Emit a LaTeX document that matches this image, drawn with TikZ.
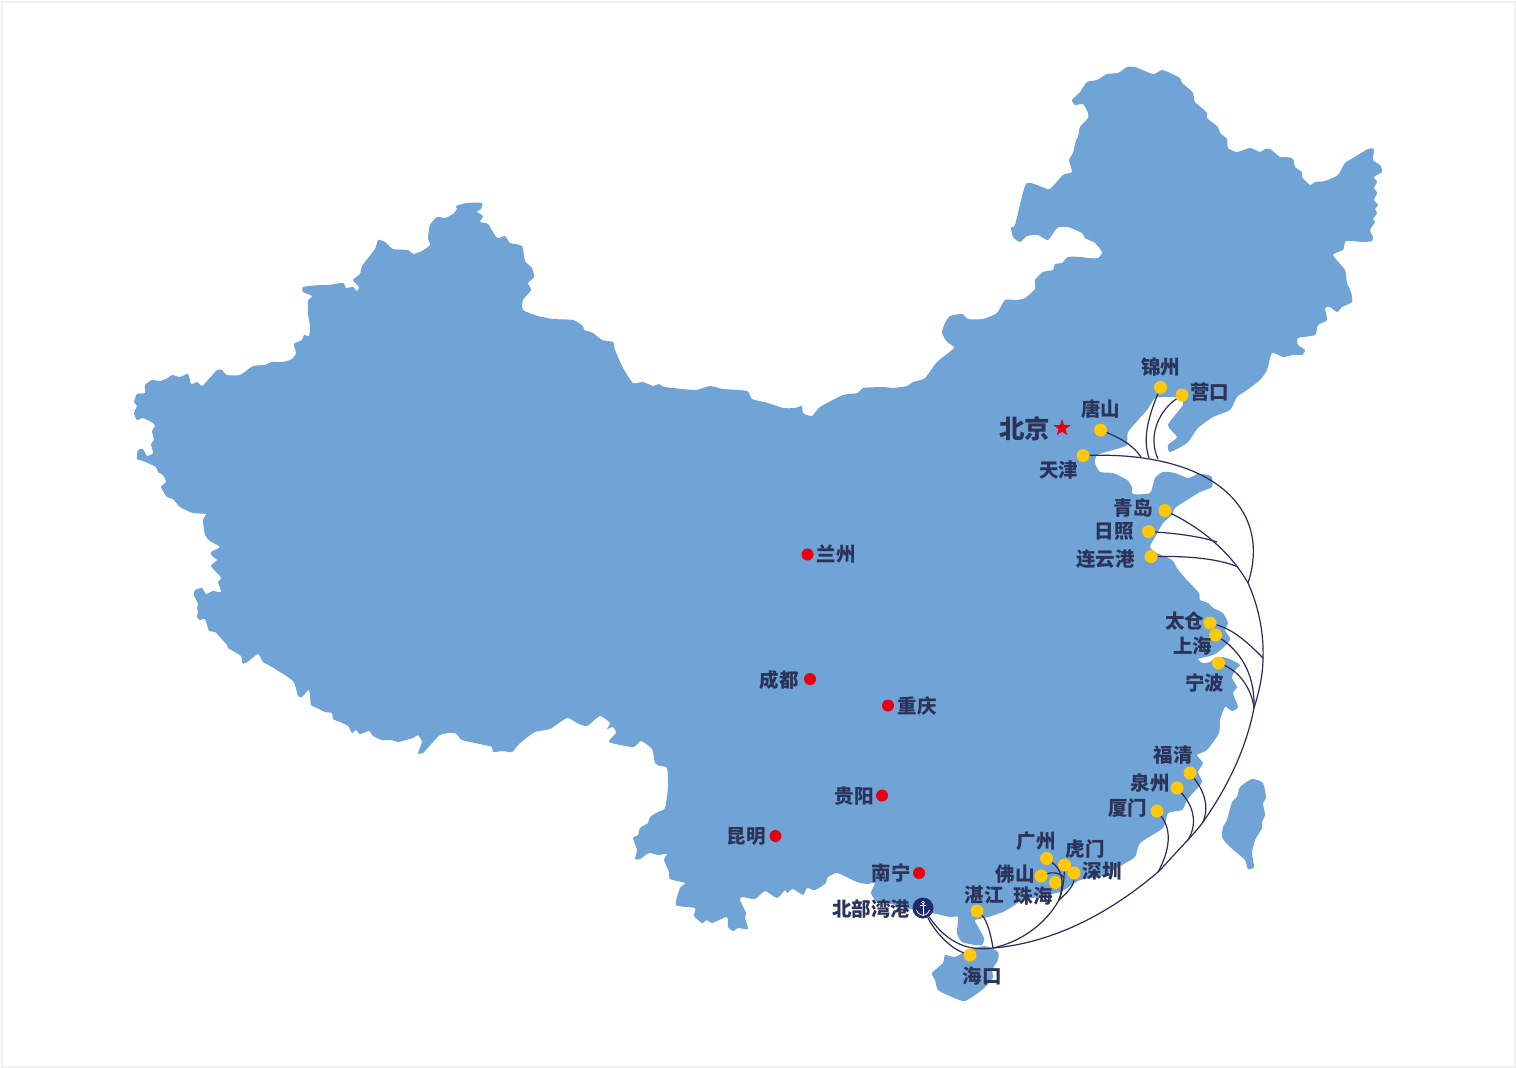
\documentclass[tikz,border=0pt]{standalone}
\usepackage{fontspec}
\setmainfont{Noto Sans CJK SC}
\usetikzlibrary{shapes.geometric}

\definecolor{landblue}{HTML}{70A3D6}
\definecolor{inkblue}{HTML}{2B3358}
\definecolor{routeblue}{HTML}{2E2A55}
\definecolor{portyellow}{HTML}{FFC90A}
\definecolor{cityred}{HTML}{E60012}
\definecolor{anchorblue}{HTML}{1E2C6E}
\definecolor{framegrey}{HTML}{F0F0F0}

\tikzset{
  land/.style={fill=landblue, draw=none},
  port/.style={circle, fill=portyellow, inner sep=0pt, minimum size=13pt},
  city/.style={circle, fill=cityred, inner sep=0pt, minimum size=12pt},
  cityname/.style={text=inkblue, inner sep=0pt, font=\bfseries\fontsize{19.5}{19.5}\selectfont},
  route/.style={draw=routeblue, line width=1.2pt}
}

\begin{document}
\begin{tikzpicture}[x=1pt,y=-1pt]
\useasboundingbox (0,0) rectangle (1516,1068);
\fill[white] (0,0) rectangle (1516,1068);
\draw[framegrey, line width=2pt] (1.5,1.5) rectangle (1514.5,1066.5);

% Mainland
\fill[land] plot[smooth cycle, tension=0.35] coordinates {
 (145,393) (137,394) (134,402) (137,406) (134,413) (137,420) (143,418) (153,423) (155,426) (152,431)
 (154,440) (151,444) (153,453) (147,456) (143,449) (138,450) (137,459) (143,461) (156,467) (158,472)
 (163,475) (166,482) (161,487) (167,497) (173,499) (180,507) (193,513) (206,514) (203,520) (205,535)
 (210,541) (220,547) (211,552) (212,556) (217,560) (211,566) (220,576) (221,579) (218,582) (221,592)
 (213,591) (206,594) (202,588) (195,590) (194,595) (198,604) (197,608) (198,612) (197,617) (200,620)
 (205,619) (209,631) (215,632) (227,645) (228,648) (241,656) (242,663) (246,663) (258,654) (263,662)
 (272,667) (293,681) (298,696) (302,697) (309,690) (311,705) (315,707) (325,712) (332,713) (333,719)
 (340,722) (348,726) (352,733) (356,730) (360,734) (369,731) (373,736) (382,740) (392,740) (398,742)
 (413,738) (418,735) (422,742) (418,753) (423,753) (440,735) (455,733) (462,740) (480,744) (492,747)
 (493,752) (503,751) (512,752) (520,743) (535,732) (550,729) (567,718) (577,723) (587,726) (600,716)
 (610,723) (607,729) (613,727) (616,733) (609,742) (633,747) (641,741) (652,749) (655,763) (660,766)
 (667,768) (668,787) (665,808) (658,812) (650,817) (648,823) (640,828) (638,835) (633,838) (637,850)
 (635,859) (640,859) (649,853) (658,855) (667,854) (664,860) (669,872) (670,879) (685,883) (680,888)
 (676,905) (695,908) (694,916) (702,923) (707,920) (712,923) (727,917) (728,927) (733,931) (738,928)
 (748,929) (745,918) (746,913) (740,900) (742,897) (755,899) (765,891) (777,898) (785,890) (787,893)
 (793,889) (803,895) (807,888) (815,890) (826,883) (827,878) (837,873) (857,882) (867,884) (875,883)
 (871,893) (877,902) (892,904) (905,908) (932,913) (950,917) (958,917) (957,933) (962,942) (975,945)
 (982,945) (984,938) (977,925) (975,920) (988,917) (1003,912) (1015,905) (1023,900) (1060,892) (1080,880)
 (1100,877) (1120,866) (1135,857) (1140,843) (1163,828) (1168,813) (1182,810) (1187,800) (1193,793) (1202,782)
 (1198,772) (1203,763) (1197,755) (1207,750) (1219,733) (1220,720) (1225,707) (1232,711) (1238,707) (1233,693)
 (1237,687) (1232,678) (1235,670) (1240,665) (1232,660) (1222,657) (1215,658) (1210,662) (1203,663) (1198,659)
 (1210,656) (1217,653) (1228,643) (1230,638) (1225,630) (1228,623) (1223,613) (1213,608) (1208,603) (1200,600)
 (1199,593) (1185,578) (1177,568) (1172,560) (1157,553) (1150,547) (1155,537) (1163,523) (1172,515) (1175,508)
 (1187,500) (1200,492) (1212,487) (1212,477) (1208,475) (1198,474) (1188,478) (1175,473) (1163,472) (1155,478)
 (1150,493) (1133,494) (1132,487) (1127,480) (1113,473) (1100,472) (1095,463) (1097,455) (1113,450) (1127,445)
 (1128,432) (1147,410) (1155,398) (1167,397) (1180,398) (1183,405) (1168,425) (1177,437) (1168,445) (1170,452)
 (1187,443) (1198,428) (1213,417) (1230,410) (1237,397) (1247,390) (1260,380) (1267,370) (1272,353) (1283,357)
 (1293,355) (1302,355) (1305,350) (1298,345) (1298,338) (1315,335) (1318,325) (1327,320) (1325,308) (1330,307)
 (1337,312) (1342,307) (1352,302) (1351,292) (1347,283) (1345,270) (1333,255) (1343,250) (1346,241) (1363,242)
 (1372,241) (1373,237) (1370,230) (1375,222) (1373,219) (1377,213) (1375,209) (1378,205) (1374,200) (1377,193)
 (1374,188) (1377,182) (1374,177) (1382,172) (1380,165) (1373,160) (1374,149) (1368,149) (1353,158) (1345,163)
 (1338,175) (1325,181) (1315,182) (1310,185) (1302,177) (1302,172) (1295,167) (1293,159) (1287,157) (1280,157)
 (1270,149) (1265,149) (1260,152) (1250,148) (1237,152) (1228,148) (1227,139) (1220,133) (1218,127) (1207,118)
 (1207,113) (1202,108) (1195,102) (1193,93) (1188,88) (1182,83) (1180,78) (1170,73) (1162,70) (1153,74)
 (1135,67) (1127,67) (1118,73) (1107,74) (1097,80) (1087,82) (1080,92) (1072,100) (1075,105) (1083,104)
 (1088,113) (1088,118) (1080,127) (1078,137) (1076,140) (1073,153) (1069,160) (1072,172) (1063,175) (1050,189)
 (1042,187) (1026,184) (1015,225) (1011,227) (1013,237) (1020,242) (1027,236) (1038,235) (1048,240) (1057,228)
 (1068,227) (1082,233) (1085,238) (1095,243) (1102,252) (1098,258) (1087,258) (1082,257) (1068,257) (1062,263)
 (1055,264) (1053,270) (1043,272) (1035,280) (1035,289) (1025,298) (1017,300) (1005,300) (997,313) (983,319)
 (968,319) (962,314) (950,316) (945,323) (942,333) (947,342) (954,348) (937,362) (925,378) (913,382)
 (907,386) (893,388) (883,387) (863,388) (858,393) (843,395) (820,407) (812,416) (803,413) (802,406)
 (795,408) (783,408) (768,403) (752,399) (747,391) (723,389) (710,386) (695,390) (665,387) (659,384)
 (653,386) (643,382) (633,383) (623,368) (615,350) (613,342) (602,340) (593,333) (584,330) (583,326)
 (573,320) (553,319) (538,316) (523,310) (523,300) (531,290) (528,283) (534,277) (532,268) (525,261)
 (522,246) (510,243) (505,236) (497,238) (488,224) (480,222) (483,216) (477,212) (481,209) (482,203)
 (467,203) (456,206) (457,209) (453,214) (445,218) (437,217) (430,225) (428,238) (430,245) (422,251)
 (413,254) (408,250) (393,249) (385,242) (378,240) (375,249) (362,266) (360,274) (353,280) (359,287)
 (357,291) (353,287) (346,288) (343,283) (328,285) (320,285) (303,287) (303,292) (312,296) (308,301)
 (308,314) (310,326) (309,336) (304,335) (302,340) (294,344) (296,353) (292,359) (283,362) (272,362)
 (265,365) (253,366) (240,375) (227,375) (222,370) (217,370) (207,381) (202,386) (197,382) (191,384)
 (188,374) (180,377) (172,375) (168,378) (160,381) (152,380) (145,385)
};

% Taiwan
\fill[land] plot[smooth cycle, tension=0.35] coordinates {
 (1252,779) (1263,783) (1266,798) (1263,803) (1265,815) (1262,822) (1262,828) (1255,840) (1252,853) (1254,867)
 (1248,869) (1245,860) (1237,853) (1228,845) (1222,837) (1223,827) (1227,820) (1232,802) (1237,797) (1240,787)
};

% Hainan
\fill[land] plot[smooth cycle, tension=0.35] coordinates {
 (945,955) (955,957) (968,950) (985,946) (998,952) (998,960) (992,970) (993,978) (982,990) (965,1001)
 (952,997) (938,990) (935,980) (932,973) (943,963)
};

% Ports
\foreach \name/\x/\y in {jinzhou/1160.5/387.5, yingkou/1182/395, tangshan/1100.5/430, tianjin/1083/455.5,
  qingdao/1165/510.5, rizhao/1148.5/531.5, lianyungang/1151/556.5, taicang/1210/623, shanghai/1215.5/635,
  ningbo/1218.5/663, fuqing/1190/773, quanzhou/1177/788, xiamen/1157/811, guangzhou/1046.5/858.5,
  humen/1064.5/865, shenzhen/1074/873, foshan/1041/876, zhuhai/1055.5/882.5, zhanjiang/977/911,
  haikou/970/955} {
    \node[port] (\name) at (\x,\y) {};
}

% Inland cities
\foreach \name/\x/\y in {lanzhou/807.5/554.5, chengdu/810/679, chongqing/888/705.5, guiyang/882/795.5,
  kunming/775.5/836, nanning/919/873} {
    \node[city] (\name) at (\x,\y) {};
}

% Beijing and the home port
\node[star, star points=5, star point ratio=2.5, fill=cityred, inner sep=0pt, minimum size=18pt] (beijing) at (1062,428) {};
\node[circle, fill=anchorblue, inner sep=0pt, minimum size=21pt] (beibu) at (923,908) {};
\begin{scope}[shift={(923,908)}, white, line width=0.7pt]
  \draw (0,-5.5) circle (1.5);
  \draw (0,-4) -- (0,7.5);
  \draw (-3,-2.5) -- (3,-2.5);
  \draw (-6.5,2) .. controls (-5,6) and (-2,7) .. (0,7.5) .. controls (2,7) and (5,6) .. (6.5,2);
\end{scope}

% Labels
\foreach \name/\x/\y/\txt in {ljinzhou/1160.5/367/锦州, lyingkou/1209.5/392/营口, ltangshan/1100.5/409/唐山,
  ltianjin/1058.5/470/天津, lqingdao/1133/508/青岛, lrizhao/1114/531/日照, llianyungang/1105.5/559/连云港,
  ltaicang/1184.5/621/太仓, lshanghai/1192.5/646/上海, lningbo/1204.5/683/宁波, lfuqing/1173/755/福清,
  lquanzhou/1150/783/泉州, lxiamen/1127.5/808/厦门, lguangzhou/1036/841/广州, lhumen/1085/849/虎门,
  lshenzhen/1102/871/深圳, lfoshan/1015/874/佛山, lzhuhai/1033/896/珠海, lzhanjiang/984/895/湛江,
  lhaikou/982/976/海口, lbeibu/871/909/北部湾港, llanzhou/836/554/兰州, lchengdu/779/680/成都,
  lchongqing/917/706/重庆, lguiyang/854/796/贵阳, lkunming/746/836/昆明, lnanning/891/873/南宁} {
    \node[cityname] (\name) at (\x,\y) {\txt};
}
\node[cityname, font=\bfseries\fontsize{25.5}{25.5}\selectfont] (lbeijing) at (1024.5,428.5) {北京};

% Junctions on the routes
\coordinate (jtj) at (1248,583);
\coordinate (jqd) at (1217,542);
\coordinate (jlyg) at (1238,567);
\coordinate (jtc) at (1263,658);
\coordinate (jnb) at (1254,708);
\coordinate (jfq) at (1203,822);
\coordinate (jqz) at (1188,840);
\coordinate (jxm) at (1158,872);
\coordinate (jgd) at (993,948);
\coordinate (jzh) at (1059,900);
\coordinate (jfs) at (1064,878);
\coordinate (jts) at (1141,457);
\coordinate (jjz) at (1149,458);
\coordinate (jyk) at (1158,459);

% Trunk route
\draw[route] (qingdao) .. controls (1205,530) and (1232,555) .. (jtj)
  .. controls (1258,605) and (1264,632) .. (jtc)
  .. controls (1263,675) and (1259,692) .. (jnb)
  .. controls (1245,755) and (1222,795) .. (jfq)
  .. controls (1198,829) and (1193,834) .. (jqz)
  .. controls (1178,850) and (1168,862) .. (jxm)
  .. controls (1090,930) and (1030,945) .. (jgd)
  .. controls (965,952) and (945,940) .. (beibu);
\draw[route] (beibu) .. controls (935,932) and (950,948) .. (haikou);

% Northern branches
\draw[route] (tianjin) .. controls (1215,452) and (1272,510) .. (jtj);
\draw[route] (tangshan) .. controls (1120,438) and (1133,445) .. (jts);
\draw[route] (jinzhou) .. controls (1147,420) and (1143,440) .. (jjz);
\draw[route] (yingkou) .. controls (1160,410) and (1147,435) .. (jyk);
\draw[route] (rizhao) .. controls (1185,534) and (1205,538) .. (jqd);
\draw[route] (lianyungang) .. controls (1195,556) and (1222,560) .. (jlyg);

% Eastern branches
\draw[route] (taicang) .. controls (1235,630) and (1250,645) .. (jtc);
\draw[route] (shanghai) .. controls (1245,655) and (1255,680) .. (jnb);
\draw[route] (ningbo) .. controls (1240,672) and (1252,690) .. (jnb);
\draw[route] (fuqing) .. controls (1203,790) and (1210,805) .. (jfq);
\draw[route] (quanzhou) .. controls (1195,808) and (1197,825) .. (jqz);
\draw[route] (xiamen) .. controls (1172,830) and (1170,850) .. (jxm);

% Southern branches
\draw[route] (guangzhou) .. controls (1060,868) and (1066,880) .. (jzh);
\draw[route] (jzh) .. controls (1045,925) and (1020,942) .. (jgd);
\draw[route] (humen) .. controls (1064,880) and (1063,890) .. (jzh);
\draw[route] (shenzhen) .. controls (1074,885) and (1068,892) .. (jzh);
\draw[route] (foshan) .. controls (1052,872) and (1060,872) .. (jfs);
\draw[route] (zhuhai) .. controls (1062,886) and (1062,892) .. (jzh);
\draw[route] (zhanjiang) .. controls (987,920) and (991,935) .. (jgd);

\end{tikzpicture}
\end{document}
